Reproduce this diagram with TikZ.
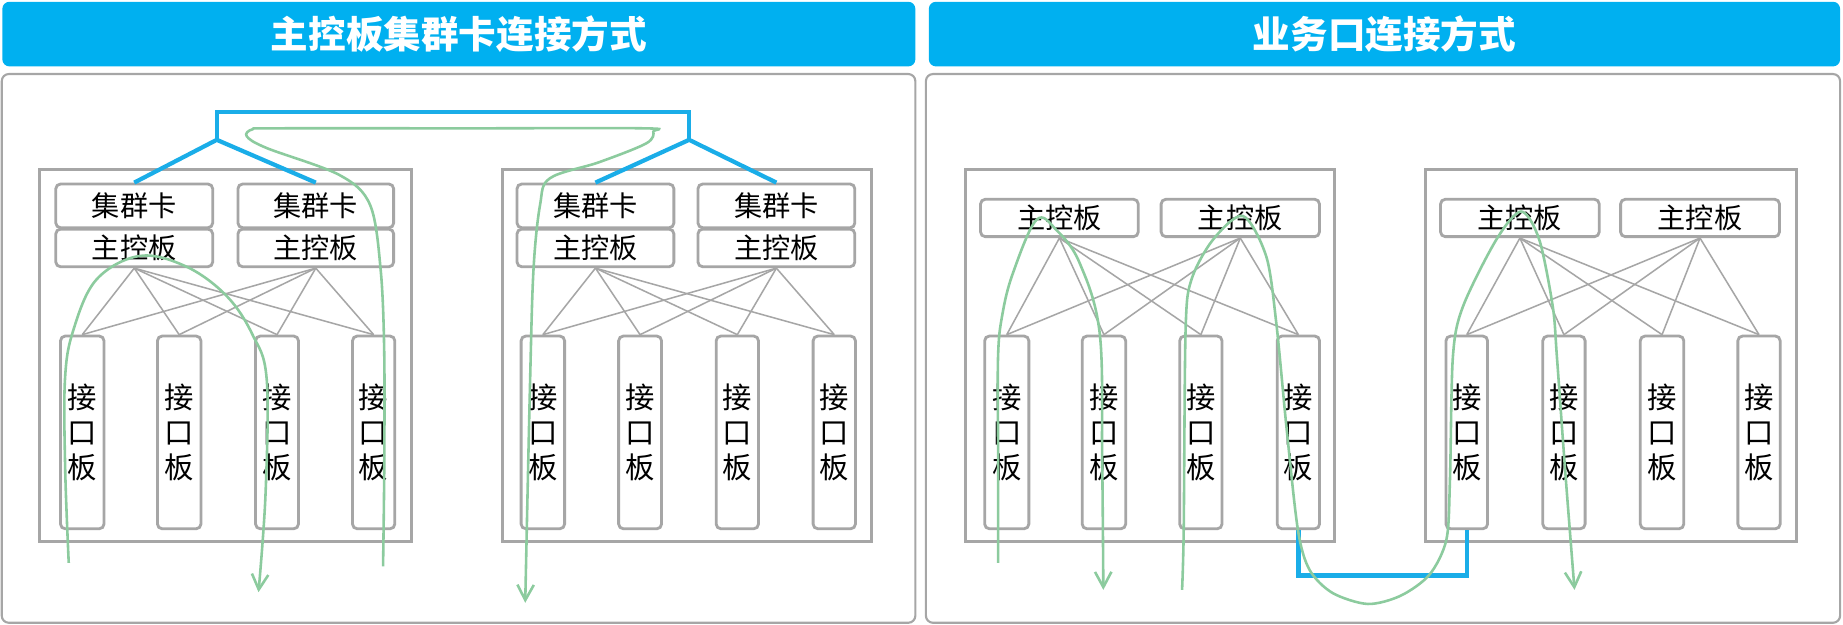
\documentclass[tikz,border=0pt]{standalone}
\usepackage{fontspec}
\newfontfamily\cjk{Noto Sans CJK SC}
\usetikzlibrary{arrows.meta}
\definecolor{hdr}{HTML}{00B0F0}
\definecolor{blu}{HTML}{1AADE8}
\definecolor{grn}{HTML}{8CCB9E}
\definecolor{gry}{HTML}{A6A6A6}
\newcommand\mkbox[7]{%
  \pgfmathsetmacro\mycx{(#3+#5)/2}\pgfmathsetmacro\mycy{(#4+#6)/2}%
  \pgfmathsetmacro\mywid{(#5-#3)*0.5}\pgfmathsetmacro\myhei{(#6-#4)*0.5}%
  \node[#2, minimum width=\mywid pt, minimum height=\myhei pt] (#1) at (\mycx,\mycy) {#7};}
\begin{document}
\begin{tikzpicture}[x=0.5pt,y=-0.5pt,
  header/.style={fill=hdr, rounded corners=3pt, inner sep=0pt, text=white, font=\cjk\bfseries\fontsize{16}{16}\selectfont},
  panel/.style={draw=gry, line width=0.9pt, rounded corners=3pt, inner sep=0pt},
  chassis/.style={draw=gry, line width=1.3pt, fill=white, inner sep=0pt},
  card/.style={draw=gry, line width=1.2pt, fill=white, rounded corners=2pt, inner sep=0pt, font=\cjk\fontsize{12}{12}\selectfont},
  board/.style={draw=gry, line width=1.2pt, fill=white, rounded corners=2pt, inner sep=0pt, align=center, font=\cjk\fontsize{12.5}{14.75}\selectfont},
  wire/.style={draw=gry, line width=0.65pt},
  link/.style={draw=blu, line width=1.8pt},
  flow/.style={draw=grn, line width=1.1pt},
  flowarr/.style={flow, -{Straight Barb[length=6.5pt,width=7pt,line width=1.1pt]}}
]
\useasboundingbox (0,0) rectangle (1568.5,531.7);
% headers and panels
\mkbox{h1}{header}{2}{1.5}{779}{56.5}{主控板集群卡连接方式}
\mkbox{h2}{header}{790.5}{1.5}{1566}{56.5}{业务口连接方式}
\mkbox{p1}{panel}{1.5}{63}{779}{530}{}
\mkbox{p2}{panel}{788}{63}{1566}{530}{}
% chassis
\mkbox{ca}{chassis}{34}{144}{350}{461}{}
\mkbox{cb}{chassis}{428}{144}{742}{461}{}
\mkbox{cc}{chassis}{822}{144.5}{1136}{461}{}
\mkbox{cd}{chassis}{1213.5}{144.5}{1529}{461}{}
% cluster cards and main boards (left panel)
\mkbox{q1}{card}{47.5}{156.6}{181}{193.8}{集群卡}
\mkbox{q2}{card}{202.5}{156.6}{335}{193.8}{集群卡}
\mkbox{m1}{card}{47.5}{195}{181}{227}{主控板}
\mkbox{m2}{card}{202.5}{195}{335}{227}{主控板}
\mkbox{q3}{card}{440}{156.6}{573.5}{193.8}{集群卡}
\mkbox{q4}{card}{594}{156.6}{727.5}{193.8}{集群卡}
\mkbox{m3}{card}{440}{195}{573.5}{227}{主控板}
\mkbox{m4}{card}{594}{195}{727.5}{227}{主控板}
% main boards (right panel)
\mkbox{m5}{card}{834.5}{169.6}{968.7}{201.4}{主控板}
\mkbox{m6}{card}{988.2}{169.6}{1122.9}{201.4}{主控板}
\mkbox{m7}{card}{1226}{169.6}{1361}{201.4}{主控板}
\mkbox{m8}{card}{1379.2}{169.6}{1514.4}{201.4}{主控板}
% interface boards
\mkbox{a1}{board}{51.5}{286}{88.5}{450}{接\\口\\板}
\mkbox{a2}{board}{134}{286}{171}{450}{接\\口\\板}
\mkbox{a3}{board}{217.5}{286}{254}{450}{接\\口\\板}
\mkbox{a4}{board}{300}{286}{336}{450}{接\\口\\板}
\mkbox{b1}{board}{443.5}{286}{480.5}{450}{接\\口\\板}
\mkbox{b2}{board}{526.5}{286}{563}{450}{接\\口\\板}
\mkbox{b3}{board}{609.5}{286}{645.5}{450}{接\\口\\板}
\mkbox{b4}{board}{692}{286}{728}{450}{接\\口\\板}
\mkbox{c1}{board}{838}{286}{875.6}{450}{接\\口\\板}
\mkbox{c2}{board}{921}{286}{958}{450}{接\\口\\板}
\mkbox{c3}{board}{1004}{286}{1040}{450}{接\\口\\板}
\mkbox{c4}{board}{1087}{286}{1123}{450}{接\\口\\板}
\mkbox{d1}{board}{1230.6}{286}{1266}{450}{接\\口\\板}
\mkbox{d2}{board}{1313}{286}{1349}{450}{接\\口\\板}
\mkbox{d3}{board}{1396}{286}{1433}{450}{接\\口\\板}
\mkbox{d4}{board}{1479}{286}{1515}{450}{接\\口\\板}
% wires
\foreach \m in {m1,m2} \foreach \b in {a1,a2,a3,a4} \draw[wire] (\m.south) -- (\b.north);
\foreach \m in {m3,m4} \foreach \b in {b1,b2,b3,b4} \draw[wire] (\m.south) -- (\b.north);
\foreach \m in {m5,m6} \foreach \b in {c1,c2,c3,c4} \draw[wire] (\m.south) -- (\b.north);
\foreach \m in {m7,m8} \foreach \b in {d1,d2,d3,d4} \draw[wire] (\m.south) -- (\b.north);
% blue links
\coordinate (jl) at (184.5,119);
\coordinate (jr) at (586.5,119);
\draw[link] (q1.north) -- (jl) -- (q2.north);
\draw[link] (q3.north) -- (jr) -- (q4.north);
\draw[link] (jl) -- (184.5,95) -- (586.5,95) -- (jr);
\draw[link] (c4.south) -- ++(0,38.5) -| (d1.south);
% green flows
\draw[flowarr] plot[smooth, tension=0.6] coordinates {(58.5,479) (55.5,400) (55.3,323) (62.4,281) (82,238) (119,217.8) (158.8,227) (193,252) (215,285) (227,323) (226,420) (220,504)};
\draw[flowarr] plot[smooth, tension=0.55] coordinates {(326,482) (327,400) (327,300) (324,230) (315,174.5) (289,149) (227,126) (210,116) (215,110) (235,109.2) (400,109.2) (548,109.2) (556,112) (550,122) (510,138) (468,151.7) (459.6,174.5) (454,230) (451,330) (447,513)};
\draw[flowarr] plot[smooth, tension=0.6] coordinates {(849.5,479) (849.4,380) (849.4,303.5) (853,268) (862,232.6) (882,187.2) (899,195.7) (918.9,224) (935.9,283.6) (938,390) (939,502)};
\draw[flowarr] plot[smooth, tension=0.5] coordinates {(1006,502) (1007.4,451) (1009,281) (1013.9,238.2) (1032.3,204) (1057.8,183.8) (1077.7,218.4) (1086.2,275) (1095,365) (1104.6,451) (1114.5,485) (1134,504.6) (1164,514) (1192,507) (1216.6,489) (1231,459) (1234,408) (1236.5,303.5) (1245,261) (1273.4,204) (1294.6,180) (1310,204) (1321.5,261) (1325,303.5) (1332,400) (1340,502)};
\end{tikzpicture}
\end{document}
